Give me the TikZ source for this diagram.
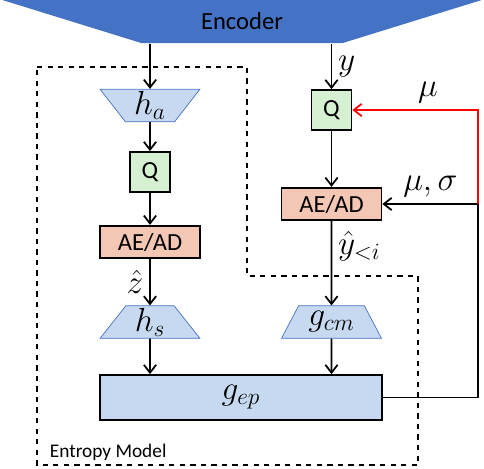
\RequirePackage{fix-cm}
\documentclass[tikz,border=0pt]{standalone}
\usepackage{fontspec}
\setmainfont{Carlito}
\usetikzlibrary{shapes.geometric,arrows.meta,positioning}
\definecolor{encblue}{HTML}{4472C4}
\definecolor{netblue}{HTML}{C6D9F1}
\definecolor{qgreen}{HTML}{D6F1D2}
\definecolor{aesalmon}{HTML}{F4C7B5}

\begin{document}
\begin{tikzpicture}[x=0.02cm, y=-0.02cm, >={Straight Barb[length=4.5pt,width=7pt]}, line width=1pt,
    font=\fontsize{14}{16}\selectfont,
    mathlab/.style={font=\fontsize{19}{22}\selectfont},
    net/.style={draw=encblue, fill=netblue, thin, trapezium, trapezium angle=60, mathlab,
        trapezium stretches=true, minimum width=2cm, minimum height=0.65cm, inner sep=0pt},
    netinv/.style={net, shape border rotate=180},
    qbox/.style={draw, fill=qgreen, minimum width=0.8cm, minimum height=0.8cm, inner sep=0pt},
    codec/.style={draw, fill=aesalmon, minimum width=2cm, minimum height=0.65cm, inner sep=0pt}]

        \useasboundingbox (0,0) rectangle (484,468);

        % Blocos
        \node [fill=encblue, trapezium, shape border rotate=180, trapezium angle=24.2,
            trapezium stretches=true, minimum width=9.6cm, minimum height=0.86cm] (enc) at (242,21.5) {Encoder};
        \node [netinv] (ha) at (150,105.5) {$h_a$};
        \node [qbox] (q1) at (150,172) {Q};
        \node [codec, below=0.64cm of q1] (aead1) {AE/AD};
        \node [net] (hs) at (150,322) {$h_s$};
        \node [qbox] (q2) at (331.5,110) {Q};
        \node [codec, below=1.12cm of q2] (aead2) {AE/AD};
        \node [net] (gcm) at (331.5,322) {$g_{cm}$};
        \node [draw, fill=netblue, mathlab, minimum width=5.64cm, minimum height=0.9cm] (gep) at (241,397.5) {$g_{ep}$};
        \coordinate [xshift=1.92cm] (fb) at (aead2.east);

        % Conexões
        \draw [->] (enc.south -| ha) -- (ha);
        \draw [->] (ha) -- (q1);
        \draw [->] (q1) -- (aead1);
        \draw [->] (aead1) -- node[left, mathlab] {$\hat{z}$} (hs);
        \draw [->] (hs) -- (hs |- gep.north);
        \draw [->] (enc.south -| q2) -- node[right, mathlab] {$y$} (q2);
        \draw [->] (q2) -- (aead2);
        \draw [->] (aead2) -- node[right, mathlab, pos=0.3] {$\hat{y}_{<i}$} (gcm);
        \draw [->] (gcm) -- (gcm |- gep.north);
        \draw [->] (gep.east) -| (fb) -- node[above, mathlab] {$\mu,\sigma$} (aead2.east);
        \draw [->, red] (fb) |- node[above, mathlab, text=black, pos=0.7] {$\mu$} (q2.east);

        % Modelo de entropia
        \draw [dashed, line width=0.7pt] (37,67) -- (247,67) -- (247,276) -- (418,276) -- (418,465) -- (37,465) -- cycle;
        \node [anchor=south west, inner sep=0pt, font=\fontsize{11}{13}\selectfont] (emlabel) at (49,461) {Entropy Model};

    \end{tikzpicture}
\end{document}
